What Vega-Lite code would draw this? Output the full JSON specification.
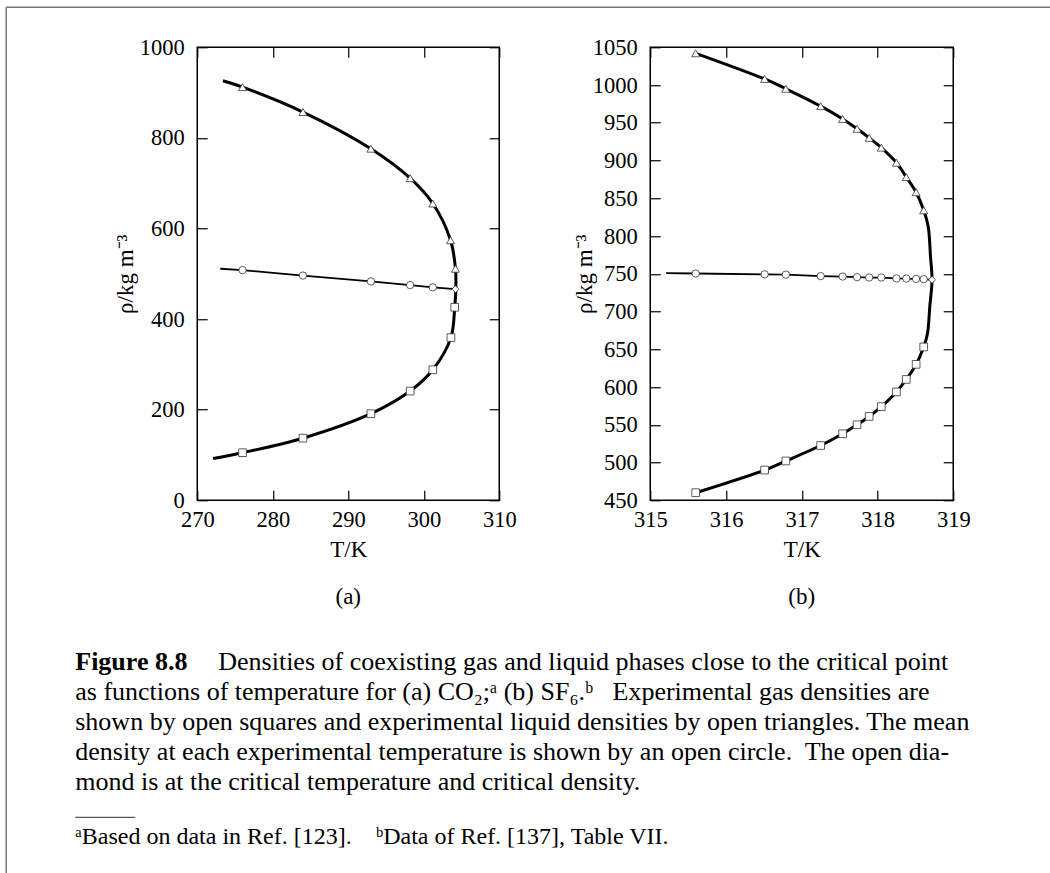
{
  "$schema": "https://vega.github.io/schema/vega-lite/v6.json",
  "background": "white",
  "padding": {"left": 5.25, "top": 6.25, "right": 0, "bottom": 0},
  "autosize": {"type": "pad"},
  "bounds": "flush",
  "spacing": 615,
  "datasets": {
    "a_curve": [
      {"i": 1, "T": 273.4, "rho": 926}, {"i": 2, "T": 276.0, "rho": 912}, {"i": 3, "T": 284.0, "rho": 857},
      {"i": 4, "T": 293.0, "rho": 776}, {"i": 5, "T": 298.2, "rho": 711}, {"i": 6, "T": 301.2, "rho": 655},
      {"i": 7, "T": 303.55, "rho": 574}, {"i": 8, "T": 304.2, "rho": 511}, {"i": 9, "T": 304.25, "rho": 466},
      {"i": 10, "T": 304.1, "rho": 426}, {"i": 11, "T": 303.6, "rho": 359}, {"i": 12, "T": 301.2, "rho": 288},
      {"i": 13, "T": 298.2, "rho": 241}, {"i": 14, "T": 293.0, "rho": 191}, {"i": 15, "T": 284.0, "rho": 137},
      {"i": 16, "T": 276.0, "rho": 105}, {"i": 17, "T": 272.1, "rho": 92}
    ],
    "a_mean": [
      {"T": 273.05, "rho": 511}, {"T": 276.0, "rho": 508}, {"T": 284.0, "rho": 496}, {"T": 293.0, "rho": 483},
      {"T": 298.2, "rho": 475}, {"T": 301.2, "rho": 470}, {"T": 304.2, "rho": 466}
    ],
    "a_pts": [
      {"kind": "liquid", "T": 276.0, "rho": 912}, {"kind": "liquid", "T": 284.0, "rho": 857},
      {"kind": "liquid", "T": 293.0, "rho": 776}, {"kind": "liquid", "T": 298.2, "rho": 711},
      {"kind": "liquid", "T": 301.2, "rho": 655}, {"kind": "liquid", "T": 303.55, "rho": 574},
      {"kind": "liquid", "T": 304.2, "rho": 511},
      {"kind": "mean", "T": 276.0, "rho": 508}, {"kind": "mean", "T": 284.0, "rho": 496},
      {"kind": "mean", "T": 293.0, "rho": 483}, {"kind": "mean", "T": 298.2, "rho": 475},
      {"kind": "mean", "T": 301.2, "rho": 470},
      {"kind": "critical", "T": 304.2, "rho": 466},
      {"kind": "gas", "T": 304.1, "rho": 426}, {"kind": "gas", "T": 303.6, "rho": 359},
      {"kind": "gas", "T": 301.2, "rho": 288}, {"kind": "gas", "T": 298.2, "rho": 241},
      {"kind": "gas", "T": 293.0, "rho": 191}, {"kind": "gas", "T": 284.0, "rho": 137},
      {"kind": "gas", "T": 276.0, "rho": 105}
    ],
    "b_curve": [
      {"i": 1, "T": 315.6, "rho": 1042}, {"i": 2, "T": 316.51, "rho": 1008}, {"i": 3, "T": 316.79, "rho": 995},
      {"i": 4, "T": 317.25, "rho": 972}, {"i": 5, "T": 317.54, "rho": 955}, {"i": 6, "T": 317.73, "rho": 942},
      {"i": 7, "T": 317.89, "rho": 930}, {"i": 8, "T": 318.05, "rho": 917}, {"i": 9, "T": 318.25, "rho": 897},
      {"i": 10, "T": 318.38, "rho": 878}, {"i": 11, "T": 318.51, "rho": 858}, {"i": 12, "T": 318.61, "rho": 834},
      {"i": 13, "T": 318.67, "rho": 812}, {"i": 14, "T": 318.70, "rho": 772}, {"i": 15, "T": 318.72, "rho": 742},
      {"i": 16, "T": 318.69, "rho": 706}, {"i": 17, "T": 318.66, "rho": 671}, {"i": 18, "T": 318.61, "rho": 653},
      {"i": 19, "T": 318.51, "rho": 630}, {"i": 20, "T": 318.38, "rho": 610}, {"i": 21, "T": 318.25, "rho": 593.5},
      {"i": 22, "T": 318.05, "rho": 574}, {"i": 23, "T": 317.89, "rho": 561}, {"i": 24, "T": 317.73, "rho": 550},
      {"i": 25, "T": 317.54, "rho": 538}, {"i": 26, "T": 317.25, "rho": 522.5}, {"i": 27, "T": 316.79, "rho": 502},
      {"i": 28, "T": 316.51, "rho": 490}, {"i": 29, "T": 315.6, "rho": 460}
    ],
    "b_mean": [
      {"T": 315.21, "rho": 750.7}, {"T": 315.6, "rho": 750.3}, {"T": 316.51, "rho": 749.2}, {"T": 316.79, "rho": 748.8},
      {"T": 317.25, "rho": 746.9}, {"T": 317.54, "rho": 746.3}, {"T": 317.73, "rho": 745.5}, {"T": 317.89, "rho": 745.0},
      {"T": 318.05, "rho": 745.0}, {"T": 318.25, "rho": 743.8}, {"T": 318.38, "rho": 743.6}, {"T": 318.51, "rho": 743.2},
      {"T": 318.61, "rho": 742.8}, {"T": 318.72, "rho": 742}
    ],
    "b_pts": [
      {"kind": "liquid", "T": 315.6, "rho": 1042}, {"kind": "liquid", "T": 316.51, "rho": 1008},
      {"kind": "liquid", "T": 316.79, "rho": 995}, {"kind": "liquid", "T": 317.25, "rho": 972},
      {"kind": "liquid", "T": 317.54, "rho": 955}, {"kind": "liquid", "T": 317.73, "rho": 942},
      {"kind": "liquid", "T": 317.89, "rho": 930}, {"kind": "liquid", "T": 318.05, "rho": 917},
      {"kind": "liquid", "T": 318.25, "rho": 897}, {"kind": "liquid", "T": 318.38, "rho": 878},
      {"kind": "liquid", "T": 318.51, "rho": 858}, {"kind": "liquid", "T": 318.61, "rho": 834},
      {"kind": "mean", "T": 315.6, "rho": 750.3}, {"kind": "mean", "T": 316.51, "rho": 749.2},
      {"kind": "mean", "T": 316.79, "rho": 748.8}, {"kind": "mean", "T": 317.25, "rho": 746.9},
      {"kind": "mean", "T": 317.54, "rho": 746.3}, {"kind": "mean", "T": 317.73, "rho": 745.5},
      {"kind": "mean", "T": 317.89, "rho": 745.0}, {"kind": "mean", "T": 318.05, "rho": 745.0},
      {"kind": "mean", "T": 318.25, "rho": 743.8}, {"kind": "mean", "T": 318.38, "rho": 743.6},
      {"kind": "mean", "T": 318.51, "rho": 743.2}, {"kind": "mean", "T": 318.61, "rho": 742.8},
      {"kind": "critical", "T": 318.72, "rho": 742},
      {"kind": "gas", "T": 318.61, "rho": 653}, {"kind": "gas", "T": 318.51, "rho": 630},
      {"kind": "gas", "T": 318.38, "rho": 610}, {"kind": "gas", "T": 318.25, "rho": 593.5},
      {"kind": "gas", "T": 318.05, "rho": 574}, {"kind": "gas", "T": 317.89, "rho": 561},
      {"kind": "gas", "T": 317.73, "rho": 550}, {"kind": "gas", "T": 317.54, "rho": 538},
      {"kind": "gas", "T": 317.25, "rho": 522.5}, {"kind": "gas", "T": 316.79, "rho": 502},
      {"kind": "gas", "T": 316.51, "rho": 490}, {"kind": "gas", "T": 315.6, "rho": 460}
    ]
  },
  "vconcat": [
    {
      "bounds": "flush",
      "spacing": 151,
      "hconcat": [
        {
          "width": 302,
          "height": 453,
          "title": {"text": "(a)", "orient": "bottom", "offset": 24, "fontSize": 23, "font": "Liberation Serif", "fontWeight": "normal", "color": "black"},
          "layer": [
            {
              "data": {"name": "a_curve"},
              "mark": {"type": "line", "color": "black", "strokeWidth": 3, "interpolate": "catmull-rom"},
              "encoding": {
                "x": {"field": "T", "type": "quantitative", "scale": {"domain": [270, 310], "nice": false, "zero": false},
                      "axis": {"orient": "bottom", "values": [270, 280, 290, 300, 310], "title": "T/K"}},
                "y": {"field": "rho", "type": "quantitative", "scale": {"domain": [0, 1000], "nice": false, "zero": false},
                      "axis": {"orient": "left", "values": [0, 200, 400, 600, 800, 1000], "title": "ρ/kg m⁻³", "titlePadding": 2}},
                "order": {"field": "i", "type": "quantitative"}
              }
            },
            {
              "data": {"name": "a_mean"},
              "mark": {"type": "line", "color": "black", "strokeWidth": 1.8},
              "encoding": {
                "x": {"field": "T", "type": "quantitative",
                      "axis": {"orient": "top", "values": [270, 280, 290, 300, 310], "labels": false, "title": null}},
                "y": {"field": "rho", "type": "quantitative",
                      "axis": {"orient": "right", "values": [0, 200, 400, 600, 800, 1000], "labels": false, "title": null}}
              }
            },
            {
              "data": {"name": "a_pts"},
              "mark": {"type": "point", "filled": true, "fill": "white", "stroke": "#333333", "strokeWidth": 0.8, "opacity": 1},
              "encoding": {
                "x": {"field": "T", "type": "quantitative", "axis": null},
                "y": {"field": "rho", "type": "quantitative", "axis": null},
                "shape": {"field": "kind", "type": "nominal", "legend": null,
                          "scale": {"domain": ["liquid", "gas", "mean", "critical"], "range": ["triangle-up", "square", "circle", "diamond"]}},
                "size": {"field": "kind", "type": "nominal", "legend": null,
                         "scale": {"domain": ["liquid", "gas", "mean", "critical"], "range": [64, 49, 45, 72]}}
              }
            }
          ],
          "resolve": {"axis": {"x": "independent", "y": "independent"}}
        },
        {
          "width": 303,
          "height": 453,
          "title": {"text": "(b)", "orient": "bottom", "offset": 24, "fontSize": 23, "font": "Liberation Serif", "fontWeight": "normal", "color": "black"},
          "layer": [
            {
              "data": {"name": "b_curve"},
              "mark": {"type": "line", "color": "black", "strokeWidth": 3, "interpolate": "catmull-rom"},
              "encoding": {
                "x": {"field": "T", "type": "quantitative", "scale": {"domain": [315, 319], "nice": false, "zero": false},
                      "axis": {"orient": "bottom", "values": [315, 316, 317, 318, 319], "title": "T/K"}},
                "y": {"field": "rho", "type": "quantitative", "scale": {"domain": [450, 1050], "nice": false, "zero": false},
                      "axis": {"orient": "left", "values": [450, 500, 550, 600, 650, 700, 750, 800, 850, 900, 950, 1000, 1050], "title": "ρ/kg m⁻³", "titlePadding": -4}},
                "order": {"field": "i", "type": "quantitative"}
              }
            },
            {
              "data": {"name": "b_mean"},
              "mark": {"type": "line", "color": "black", "strokeWidth": 1.8},
              "encoding": {
                "x": {"field": "T", "type": "quantitative",
                      "axis": {"orient": "top", "values": [315, 316, 317, 318, 319], "labels": false, "title": null}},
                "y": {"field": "rho", "type": "quantitative",
                      "axis": {"orient": "right", "values": [450, 500, 550, 600, 650, 700, 750, 800, 850, 900, 950, 1000, 1050], "labels": false, "title": null}}
              }
            },
            {
              "data": {"name": "b_pts"},
              "mark": {"type": "point", "filled": true, "fill": "white", "stroke": "#333333", "strokeWidth": 0.8, "opacity": 1},
              "encoding": {
                "x": {"field": "T", "type": "quantitative", "axis": null},
                "y": {"field": "rho", "type": "quantitative", "axis": null},
                "shape": {"field": "kind", "type": "nominal", "legend": null,
                          "scale": {"domain": ["liquid", "gas", "mean", "critical"], "range": ["triangle-up", "square", "circle", "diamond"]}},
                "size": {"field": "kind", "type": "nominal", "legend": null,
                         "scale": {"domain": ["liquid", "gas", "mean", "critical"], "range": [85, 42, 28, 56]}}
              }
            }
          ],
          "resolve": {"axis": {"x": "independent", "y": "independent"}}
        }
      ]
    },
    {
      "width": 781,
      "height": 179,
      "view": {"stroke": null},
      "layer": [
        {
          "data": {"values": [{"line": 1, "text": "Figure 8.8"}]},
          "mark": {"type": "text", "align": "left", "baseline": "middle", "font": "Liberation Serif", "fontSize": 26, "fontWeight": "bold", "color": "black"},
          "encoding": {
            "x": {"datum": 75, "type": "quantitative", "scale": {"domain": [197, 978], "nice": false, "zero": false}, "axis": null},
            "y": {"field": "line", "type": "quantitative", "scale": {"domain": [1, 7], "reverse": true, "nice": false, "zero": false}, "axis": null},
            "text": {"field": "text"}
          }
        },
        {
          "data": {"values": [{"line": 1, "text": "Densities of coexisting gas and liquid phases close to the critical point"}]},
          "mark": {"type": "text", "align": "left", "baseline": "middle", "font": "Liberation Serif", "fontSize": 26, "color": "black"},
          "encoding": {
            "x": {"datum": 218, "type": "quantitative"},
            "y": {"field": "line", "type": "quantitative"},
            "text": {"field": "text"}
          }
        },
        {
          "data": {"values": [
            {"line": 2, "text": "as functions of temperature for (a) CO₂;ᵃ (b) SF₆.ᵇ\u2002 Experimental gas densities are"},
            {"line": 3, "text": "shown by open squares and experimental liquid densities by open triangles. The mean"},
            {"line": 4, "text": "density at each experimental temperature is shown by an open circle.\u00a0 The open dia-"},
            {"line": 5, "text": "mond is at the critical temperature and critical density."}
          ]},
          "mark": {"type": "text", "align": "left", "baseline": "middle", "font": "Liberation Serif", "fontSize": 26, "color": "black"},
          "encoding": {
            "x": {"datum": 75, "type": "quantitative"},
            "y": {"field": "line", "type": "quantitative"},
            "text": {"field": "text"}
          }
        },
        {
          "data": {"values": [{}]},
          "mark": {"type": "rule", "color": "#555555", "strokeWidth": 1.2},
          "encoding": {
            "x": {"datum": 75, "type": "quantitative"},
            "x2": {"datum": 135},
            "y": {"datum": 6.2, "type": "quantitative"}
          }
        },
        {
          "data": {"values": [{"line": 6.85, "text": "ᵃBased on data in Ref. [123].\u2003ᵇData of Ref. [137], Table VII."}]},
          "mark": {"type": "text", "align": "left", "baseline": "middle", "font": "Liberation Serif", "fontSize": 24, "color": "black"},
          "encoding": {
            "x": {"datum": 75, "type": "quantitative"},
            "y": {"field": "line", "type": "quantitative"},
            "text": {"field": "text"}
          }
        },
        {
          "data": {"values": [{}]},
          "mark": {"type": "rule", "color": "#777777", "strokeWidth": 1.5},
          "encoding": {
            "x": {"datum": 6, "type": "quantitative"},
            "y": {"datum": -20.955, "type": "quantitative"},
            "y2": {"datum": 8.1}
          }
        },
        {
          "data": {"values": [{}]},
          "mark": {"type": "rule", "color": "#777777", "strokeWidth": 1.5},
          "encoding": {
            "x": {"datum": 6, "type": "quantitative"},
            "x2": {"datum": 1050},
            "y": {"datum": -20.955, "type": "quantitative"}
          }
        }
      ]
    }
  ],
  "config": {
    "font": "Liberation Serif",
    "view": {"stroke": "black", "strokeWidth": 1.5},
    "axis": {
      "labelFont": "Liberation Serif", "labelFontSize": 22.5, "labelColor": "black", "format": "d",
      "titleFont": "Liberation Serif", "titleFontSize": 23, "titleFontWeight": "normal", "titleColor": "black",
      "tickColor": "black", "tickSize": -10, "tickWidth": 1.2, "domain": false, "grid": false,
      "labelPadding": 18, "labelFlush": false, "labelOverlap": false
    },
    "axisX": {"titlePadding": 8},
    "axisY": {"labelPadding": 23}
  }
}
